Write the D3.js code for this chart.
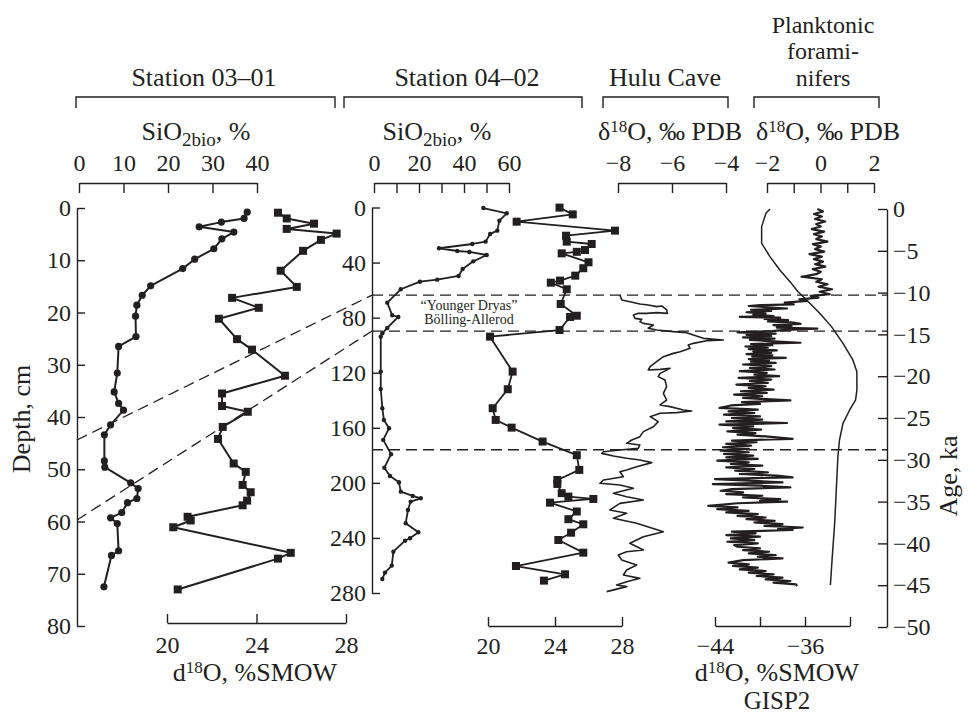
<!DOCTYPE html>
<html>
<head>
<meta charset="utf-8">
<script src="https://cdn.jsdelivr.net/npm/d3@7"></script>
<style>
  body { margin: 0; background: #fff; }
  svg text { font-family: "Liberation Serif", "Times New Roman", serif; fill: #231f20; }
</style>
</head>
<body>
<div id="chart"></div>
<script>
// ---- data ----
// Station 03-01: [depth cm, value]
const st1Sio = [[0.8,37.8],[2.0,37.1],[2.7,32.0],[3.6,27.0],[4.6,34.8],[5.9,32.1],[7.8,30.3],[9.8,26.0],[11.6,23.3],[14.9,16.1],[16.7,14.2],[18.6,13.0],[20.7,12.7],[24.6,12.8],[26.5,8.9],[31.6,8.6],[35.2,7.9],[37.4,8.9],[38.7,10.0],[41.5,7.1],[43.4,5.7],[48.4,5.7],[49.6,5.8],[52.6,11.6],[53.7,13.3],[55.6,13.0],[56.4,10.9],[58.3,9.6],[59.3,7.1],[60.4,8.6],[65.6,8.9],[66.5,7.3],[72.5,5.6]];
const st1O18 = [[0.9,24.96],[2.0,25.35],[3.0,26.57],[4.0,25.35],[4.9,27.58],[6.1,26.88],[8.2,26.08],[12.0,25.08],[15.1,25.8],[17.2,22.91],[19.1,24.1],[21.2,22.32],[25.1,23.13],[27.1,23.8],[32.1,25.27],[35.5,22.46],[37.9,22.46],[39.0,23.61],[41.9,22.49],[44.2,22.28],[48.9,22.98],[50.5,23.52],[53.0,23.38],[54.4,23.74],[56.0,23.58],[56.9,23.38],[59.1,20.92],[59.8,21.06],[61.1,20.28],[66.0,25.53],[67.1,24.96],[73.0,20.48]];
// Station 04-02: [depth cm, value]
const st2Sio = [[0.4,48.6],[4.2,59.0],[9.6,55.7],[16.8,54.8],[19.2,51.6],[24.8,49.6],[26.5,43.7],[29.6,28.9],[31.6,37.0],[32.3,42.4],[34.5,50.1],[39.1,44.1],[44.7,39.4],[49.7,37.6],[52.4,28.1],[53.9,20.4],[59.4,11.9],[69.1,5.9],[78.3,8.1],[79.5,10.8],[87.5,5.9],[91.4,3.7],[93.8,3.0],[119.2,3.0],[131.8,3.0],[145.8,3.7],[154.3,4.4],[160.3,6.7],[168.8,4.1],[179.2,7.6],[189.0,4.6],[195.0,7.1],[199.6,11.1],[206.4,11.9],[209.5,17.2],[211.2,20.8],[213.6,16.3],[219.7,15.1],[229.3,14.1],[235.9,19.7],[240.2,16.0],[242.0,13.8],[250.0,8.6],[260.1,7.9],[265.2,4.9],[269.8,3.7]];
const st2O18 = [[0.1,24.27],[5.0,25.06],[10.3,21.71],[16.8,27.58],[20.5,24.66],[24.8,24.7],[26.5,26.19],[30.9,25.79],[32.2,25.3],[33.3,24.4],[39.8,26.0],[44.1,25.69],[49.5,25.21],[53.1,24.3],[54.6,23.75],[59.4,24.7],[70.1,24.34],[78.6,25.3],[79.5,24.9],[89.0,24.27],[93.8,20.12],[119.2,21.47],[132.0,21.18],[145.8,20.28],[154.3,20.46],[159.9,21.41],[170.0,23.26],[179.9,25.3],[190.6,25.45],[197.9,24.14],[200.8,24.14],[207.5,24.4],[210.0,24.8],[211.7,26.29],[214.4,23.7],[220.8,25.3],[226.4,24.8],[230.1,25.69],[236.2,24.96],[241.5,24.2],[250.7,25.69],[260.4,21.67],[266.4,24.6],[271.0,23.34]];
// Hulu Cave: [age ka, d18O PDB]
const hulu = [[-10.29,-7.93],[-10.89,-7.86],[-11.09,-7.56],[-11.36,-7.19],[-11.48,-6.88],[-11.68,-6.57],[-11.6,-6.38],[-12.08,-6.2],[-12.48,-6.17],[-12.4,-6.57],[-12.48,-6.94],[-12.48,-7.25],[-12.68,-7.43],[-13.08,-7.37],[-13.2,-7.12],[-13.48,-7.19],[-13.68,-7.06],[-13.88,-6.69],[-14.27,-6.88],[-14.47,-6.57],[-14.67,-5.95],[-14.79,-5.46],[-15.07,-5.21],[-15.47,-4.84],[-15.67,-4.1],[-15.75,-4.71],[-16.07,-5.21],[-16.27,-5.4],[-16.67,-5.33],[-17.07,-5.7],[-17.27,-5.95],[-17.66,-6.32],[-18.26,-6.57],[-18.86,-6.81],[-19.26,-6.88],[-19.18,-6.44],[-19.06,-6.07],[-19.66,-6.44],[-20.05,-6.51],[-20.45,-6.26],[-21.25,-6.2],[-22.05,-6.32],[-22.85,-6.2],[-23.44,-6.44],[-23.64,-6.07],[-24.04,-5.58],[-24.16,-5.27],[-24.36,-5.83],[-24.44,-6.44],[-24.84,-6.81],[-25.44,-6.51],[-26.04,-6.69],[-26.63,-7.06],[-27.23,-7.19],[-27.63,-7.49],[-28.03,-7.68],[-28.23,-7.19],[-28.63,-7.25],[-28.83,-7.93],[-29.03,-8.54],[-29.23,-8.6],[-29.55,-8.17],[-29.82,-7.68],[-30.02,-7.19],[-30.34,-6.75],[-30.82,-7.31],[-31.22,-7.68],[-31.42,-7.93],[-32.02,-7.8],[-32.42,-8.54],[-32.81,-8.67],[-33.01,-7.93],[-33.41,-7.43],[-34.01,-8.17],[-34.41,-7.68],[-34.81,-7.06],[-35.21,-7.93],[-36.0,-8.3],[-36.4,-7.68],[-37.0,-8.17],[-37.6,-7.31],[-38.6,-6.32],[-39.2,-7.06],[-39.99,-7.56],[-40.79,-7.06],[-40.99,-7.68],[-41.39,-7.99],[-41.99,-7.86],[-42.58,-7.31],[-43.18,-7.68],[-43.78,-7.8],[-44.18,-7.19],[-44.58,-7.68],[-44.98,-8.05],[-45.17,-7.68],[-45.77,-8.42]];
// Planktonic foraminifers: [age ka, d18O PDB]
const plankton = [[0,-1.89],[-0.52,-2.04],[-2.11,-2.2],[-4.11,-2.2],[-5.7,-1.89],[-7.3,-1.52],[-8.69,-1.14],[-9.89,-0.84],[-10.89,-0.52],[-12.48,-0.03],[-14.07,0.41],[-16.07,0.84],[-18.06,1.21],[-19.46,1.36],[-21.65,1.36],[-22.85,1.31],[-24.04,1.09],[-25.64,0.84],[-27.63,0.71],[-29.63,0.65],[-33.61,0.59],[-37.6,0.53],[-41.59,0.44],[-44.98,0.37]];
// GISP2: [age ka, d18O SMOW]
const gisp2 = [[0,-34.9],[-0.3,-34.4],[-0.6,-35.2],[-0.9,-34.5],[-1.2,-35.1],[-1.5,-34.2],[-1.8,-35.0],[-2.1,-34.6],[-2.4,-35.4],[-2.7,-34.3],[-3.0,-35.2],[-3.3,-34.5],[-3.6,-35.0],[-3.9,-34.0],[-4.2,-35.3],[-4.5,-34.6],[-4.8,-35.1],[-5.1,-34.3],[-5.4,-35.6],[-5.7,-34.5],[-6.0,-35.2],[-6.3,-34.4],[-6.6,-35.1],[-6.9,-34.2],[-7.2,-35.3],[-7.5,-34.6],[-7.8,-35.0],[-8.1,-36.3],[-8.4,-34.5],[-8.7,-35.0],[-9.0,-34.0],[-9.3,-34.8],[-9.6,-33.6],[-9.9,-34.7],[-10.2,-33.8],[-10.4,-35.5],[-10.6,-34.8],
  [-10.8,-36.5],[-11.0,-35.8],[-11.2,-37.8],[-11.4,-37.0],[-11.5,-40.0],
  [-11.6,-41.0],[-11.75,-39.3],[-11.9,-37.6],[-12.05,-40.8],[-12.2,-39.0],[-12.35,-41.2],[-12.5,-39.5],[-12.65,-40.6],[-12.8,-38.8],[-12.9,-41.8],
  [-13.0,-38.2],[-13.15,-39.6],[-13.3,-37.5],[-13.45,-39.3],[-13.6,-37.0],[-13.75,-36.4],[-13.9,-38.8],[-14.05,-37.2],[-14.2,-38.5],[-14.3,-34.9],[-14.45,-37.8],[-14.6,-38.9],
  [-14.75,-42.0],[-14.9,-38.6],[-15.05,-41.2],[-15.2,-39.0],[-15.35,-41.5],[-15.5,-38.7],[-15.65,-40.9],[-15.8,-39.2],[-16.0,-36.4],[-16.15,-40.8],[-16.3,-38.9],[-16.45,-41.3],[-16.6,-39.3],[-16.75,-41.0],[-16.9,-38.5],[-17.05,-40.6],[-17.2,-39.0],[-17.35,-41.2],[-17.5,-38.9],[-17.65,-40.7],[-17.8,-37.7],[-17.95,-41.0],[-18.1,-39.2],[-18.25,-40.8],
  [-18.4,-38.6],[-18.6,-41.5],[-18.8,-39.0],[-19.0,-40.9],[-19.2,-38.7],[-19.4,-41.8],[-19.6,-39.4],[-19.8,-40.5],[-20.0,-38.3],[-20.2,-41.9],[-20.4,-39.0],[-20.6,-40.9],[-20.8,-39.3],[-21.0,-42.1],[-21.2,-39.5],[-21.4,-41.0],[-21.6,-38.8],[-21.8,-41.7],[-22.0,-39.4],[-22.2,-42.3],[-22.4,-39.8],[-22.6,-41.5],[-22.9,-37.3],[-23.1,-41.6],[-23.3,-40.0],[-23.5,-42.6],[-23.8,-43.6],
  [-24.0,-40.2],[-24.2,-42.8],[-24.4,-40.5],[-24.6,-43.2],[-24.8,-40.0],[-25.0,-42.5],[-25.2,-39.8],[-25.4,-43.0],[-25.6,-37.6],[-25.8,-43.6],[-26.0,-40.6],[-26.2,-42.4],[-26.4,-39.9],[-26.6,-42.9],[-26.8,-40.4],[-27.0,-42.0],[-27.2,-39.5],[-27.5,-37.1],[-27.7,-42.5],[-27.9,-40.3],[-28.1,-43.0],[-28.3,-40.8],[-28.5,-43.3],[-28.7,-41.0],
  [-28.9,-43.5],[-29.1,-41.0],[-29.3,-43.2],[-29.5,-40.6],[-29.7,-43.0],[-29.9,-40.2],[-30.1,-43.8],[-30.3,-41.0],[-30.5,-42.6],[-30.7,-39.8],[-30.9,-43.0],[-31.1,-40.5],[-31.3,-42.2],[-31.5,-39.3],[-31.7,-41.8],[-31.9,-38.5],[-32.1,-37.1],[-32.3,-44.0],[-32.5,-41.0],[-32.7,-38.0],[-32.9,-44.2],[-33.1,-40.0],[-33.3,-37.3],[-33.5,-42.5],
  [-33.7,-43.5],[-33.9,-41.5],[-34.1,-43.0],[-34.3,-39.8],[-34.5,-41.5],[-34.7,-38.2],[-34.9,-40.0],[-35.0,-37.6],[-35.2,-42.0],
  [-35.5,-44.6],[-35.7,-42.0],[-35.9,-43.8],[-36.1,-41.0],[-36.3,-43.0],[-36.5,-40.2],[-36.7,-42.0],[-36.9,-39.5],[-37.1,-41.2],[-37.3,-38.7],[-37.5,-40.5],[-37.7,-38.0],[-37.9,-39.6],[-38.1,-36.2],[-38.3,-38.4],[-38.4,-37.1],
  [-38.6,-42.5],[-38.8,-40.4],[-39.0,-43.0],[-39.2,-40.0],[-39.4,-42.6],[-39.6,-40.5],[-39.8,-42.9],[-40.0,-40.2],[-40.2,-42.3],
  [-40.4,-42.0],[-40.6,-40.0],[-40.8,-41.5],[-41.0,-39.2],[-41.2,-41.0],[-41.4,-38.6],[-41.6,-40.2],[-41.8,-38.0],[-42.0,-41.5],
  [-42.3,-42.8],[-42.5,-41.0],[-42.7,-42.4],[-42.9,-40.2],[-43.1,-41.8],[-43.3,-39.5],[-43.5,-41.0],[-43.7,-38.8],[-43.9,-40.3],[-44.1,-38.0],[-44.3,-39.5],[-44.5,-37.3],[-44.7,-38.8],[-44.9,-36.8],[-45.1,-36.7]];

// boundaries: ages of dashed lines, and the matching depths in station 03-01
const boundaryAges = [-10.3, -14.6, -28.8];
const boundaryDepths1 = [44.4, 59.7];

// ticks
const depth1Ticks = [0, 10, 20, 30, 40, 50, 60, 70, 80];
const depth2Ticks = [0, 40, 80, 120, 160, 200, 240, 280];
const sio1Ticks = [0, 10, 20, 30, 40];
const sio2Ticks = [0, 10, 20, 30, 40, 50, 60];
const sio2Labels = [0, 20, 40, 60];
const smowTicks = [20, 24, 28];
const huluTicks = [-8, -6, -4];
const planktonTicks = [-2, -1, 0, 1, 2];
const planktonLabels = [-2, 0, 2];
const gispTicks = [-44, -40, -36, -32];
const gispLabels = [-44, -36];
const ageTicks = [0, -5, -10, -15, -20, -25, -30, -35, -40, -45, -50];

// ---- drawing ----
const ink = "#231f20";
const svg = d3.select("#chart").append("svg")
  .attr("width", 968)
  .attr("height", 715);

// scales
const depth1 = d3.scaleLinear().domain([0, 80]).range([208, 626]);
const sio1 = d3.scaleLinear().domain([0, 40]).range([79, 257]);
const smow1 = d3.scaleLinear().domain([20, 28]).range([167, 346]);
const depth2 = d3.scaleLinear().domain([0, 280]).range([207.5, 593]);
const sio2 = d3.scaleLinear().domain([0, 60]).range([374, 509]);
const smow2 = d3.scaleLinear().domain([20, 28]).range([488, 622]);
const age = d3.scaleLinear().domain([0, -50]).range([209, 627]);
const huluX = d3.scaleLinear().domain([-8, -4]).range([618, 726]);
const planktonX = d3.scaleLinear().domain([-2, 2]).range([767, 874]);
const gispX = d3.scaleLinear().domain([-44, -32]).range([715, 850]);

const fmt = d3.format("");

function styleAxis(g) {
  g.attr("font-family", null).attr("font-size", null);
  g.select(".domain").attr("stroke", ink).attr("stroke-width", 1.4);
  g.selectAll(".tick line").attr("stroke", ink).attr("stroke-width", 1.4);
  g.selectAll(".tick text").attr("fill", ink).style("font-size", "24px");
}

function labelsOnly(list) {
  return d => list.includes(d) ? fmt(d) : "";
}

// top axes
svg.append("g").attr("transform", "translate(0,183)")
  .call(d3.axisTop(sio1).tickValues(sio1Ticks).tickFormat(fmt).tickSizeInner(-10).tickSizeOuter(0).tickPadding(12))
  .call(styleAxis);
svg.append("g").attr("transform", "translate(0,183)")
  .call(d3.axisTop(sio2).tickValues(sio2Ticks).tickFormat(labelsOnly(sio2Labels)).tickSizeInner(-10).tickSizeOuter(0).tickPadding(12))
  .call(styleAxis);
svg.append("g").attr("transform", "translate(0,183)")
  .call(d3.axisTop(huluX).tickValues(huluTicks).tickFormat(fmt).tickSizeInner(-10).tickSizeOuter(0).tickPadding(12))
  .call(styleAxis);
svg.append("g").attr("transform", "translate(0,183)")
  .call(d3.axisTop(planktonX).tickValues(planktonTicks).tickFormat(labelsOnly(planktonLabels)).tickSizeInner(-10).tickSizeOuter(0).tickPadding(12))
  .call(styleAxis);

// depth axes
svg.append("g").attr("transform", "translate(77,0)")
  .call(d3.axisLeft(depth1).tickValues(depth1Ticks).tickFormat(fmt).tickSizeInner(-8).tickSizeOuter(0).tickPadding(6))
  .call(styleAxis);
svg.append("g").attr("transform", "translate(372,0)")
  .call(d3.axisLeft(depth2).tickValues(depth2Ticks).tickFormat(fmt).tickSizeInner(-8).tickSizeOuter(0).tickPadding(6))
  .call(styleAxis);

// age axis
svg.append("g").attr("transform", "translate(887,0)")
  .call(d3.axisRight(age).tickValues(ageTicks).tickFormat(fmt).tickSizeInner(-9).tickSizeOuter(0).tickPadding(6))
  .call(styleAxis);

// bottom axes
svg.append("g").attr("transform", "translate(0,623)")
  .call(d3.axisBottom(smow1).tickValues(smowTicks).tickFormat(fmt).tickSizeInner(-9).tickSizeOuter(0).tickPadding(13))
  .call(styleAxis);
svg.append("g").attr("transform", "translate(0,626)")
  .call(d3.axisBottom(smow2).tickValues(smowTicks).tickFormat(fmt).tickSizeInner(-9).tickSizeOuter(0).tickPadding(11))
  .call(styleAxis);
svg.append("g").attr("transform", "translate(0,626)")
  .call(d3.axisBottom(gispX).tickValues(gispTicks).tickFormat(labelsOnly(gispLabels)).tickSizeInner(-9).tickSizeOuter(0).tickPadding(11))
  .call(styleAxis);

// brackets and titles over each panel
const brackets = [
  { x0: 76, x1: 335, title: ["Station 03\u201301"], cx: 204, fs: 26 },
  { x0: 344, x1: 582, title: ["Station 04\u201302"], cx: 467, fs: 26 },
  { x0: 603, x1: 728, title: ["Hulu Cave"], cx: 665, fs: 26 },
  { x0: 754, x1: 879, title: ["Planktonic", "forami-", "nifers"], cx: 823, fs: 24 }
];
brackets.forEach(b => {
  svg.append("path")
    .attr("d", `M${b.x0},108V97H${b.x1}V108`)
    .attr("fill", "none").attr("stroke", ink).attr("stroke-width", 1.4);
  const t = svg.append("text").attr("text-anchor", "middle").style("font-size", b.fs + "px");
  const base = 86 - (b.title.length - 1) * 26.7;
  b.title.forEach((line, i) => {
    t.append("tspan").attr("x", b.cx).attr("y", base + i * 26.7).text(line);
  });
});

// axis titles
function sioTitle(cx) {
  const t = svg.append("text").attr("x", cx).attr("y", 140).attr("text-anchor", "middle").style("font-size", "26px");
  t.append("tspan").text("SiO");
  t.append("tspan").attr("dy", 6).style("font-size", "19px").text("2bio");
  t.append("tspan").attr("dy", -6).text(", %");
}
sioTitle(196);
sioTitle(437);

function deltaTitle(cx, y, prefix, rest) {
  const t = svg.append("text").attr("x", cx).attr("y", y).attr("text-anchor", "middle").style("font-size", "26px");
  t.append("tspan").text(prefix);
  t.append("tspan").attr("dy", -8).style("font-size", "17px").text("18");
  t.append("tspan").attr("dy", 8).text(rest);
  return t;
}
deltaTitle(670, 140, "\u03b4", "O, \u2030 PDB");
deltaTitle(828, 140, "\u03b4", "O, \u2030 PDB");
deltaTitle(255, 681, "d", "O, %SMOW");
deltaTitle(777, 681, "d", "O, %SMOW");
svg.append("text").attr("x", 777).attr("y", 709).attr("text-anchor", "middle")
  .style("font-size", "25px").text("GISP2");

svg.append("text")
  .attr("transform", "translate(30,419) rotate(-90)")
  .attr("text-anchor", "middle").style("font-size", "26px")
  .text("Depth, cm");
svg.append("text")
  .attr("transform", "translate(957,476) rotate(-90)")
  .attr("text-anchor", "middle").style("font-size", "26px")
  .text("Age, ka");

// dashed boundary lines
const dash = "11,6";
boundaryAges.forEach(a => {
  svg.append("line")
    .attr("x1", 372).attr("x2", 887)
    .attr("y1", age(a)).attr("y2", age(a))
    .attr("stroke", ink).attr("stroke-width", 1.3).attr("stroke-dasharray", dash);
});
boundaryDepths1.forEach((d, i) => {
  svg.append("line")
    .attr("x1", 77).attr("y1", depth1(d))
    .attr("x2", 372).attr("y2", age(boundaryAges[i]))
    .attr("stroke", ink).attr("stroke-width", 1.3).attr("stroke-dasharray", dash);
});

// annotation
svg.append("text").attr("x", 469).attr("y", 310).attr("text-anchor", "middle")
  .style("font-size", "14px").text("\u201cYounger Dryas\u201d");
svg.append("text").attr("x", 469).attr("y", 324).attr("text-anchor", "middle")
  .style("font-size", "14px").text("B\u00f6lling-Allerod");

// series
function drawSeries(data, xs, ys, opts) {
  const line = d3.line().x(d => xs(d[1])).y(d => ys(d[0]));
  svg.append("path").datum(data)
    .attr("d", line)
    .attr("fill", "none").attr("stroke", ink)
    .attr("stroke-width", opts.width).attr("stroke-linejoin", "round");
  if (opts.marker === "circle") {
    svg.append("g").selectAll("circle").data(data).join("circle")
      .attr("cx", d => xs(d[1])).attr("cy", d => ys(d[0]))
      .attr("r", opts.size).attr("fill", ink);
  } else if (opts.marker === "square") {
    svg.append("g").selectAll("rect").data(data).join("rect")
      .attr("x", d => xs(d[1]) - opts.size / 2).attr("y", d => ys(d[0]) - opts.size / 2)
      .attr("width", opts.size).attr("height", opts.size).attr("fill", ink);
  }
}

drawSeries(st1Sio, sio1, depth1, { width: 2, marker: "circle", size: 3.6 });
drawSeries(st1O18, smow1, depth1, { width: 2, marker: "square", size: 8 });
drawSeries(st2Sio, sio2, depth2, { width: 1.8, marker: "circle", size: 2.2 });
drawSeries(st2O18, smow2, depth2, { width: 1.8, marker: "square", size: 8 });
drawSeries(hulu, huluX, age, { width: 1.6 });
drawSeries(plankton, planktonX, age, { width: 1.5 });
drawSeries(gisp2, gispX, age, { width: 2.2 });
</script>
</body>
</html>
